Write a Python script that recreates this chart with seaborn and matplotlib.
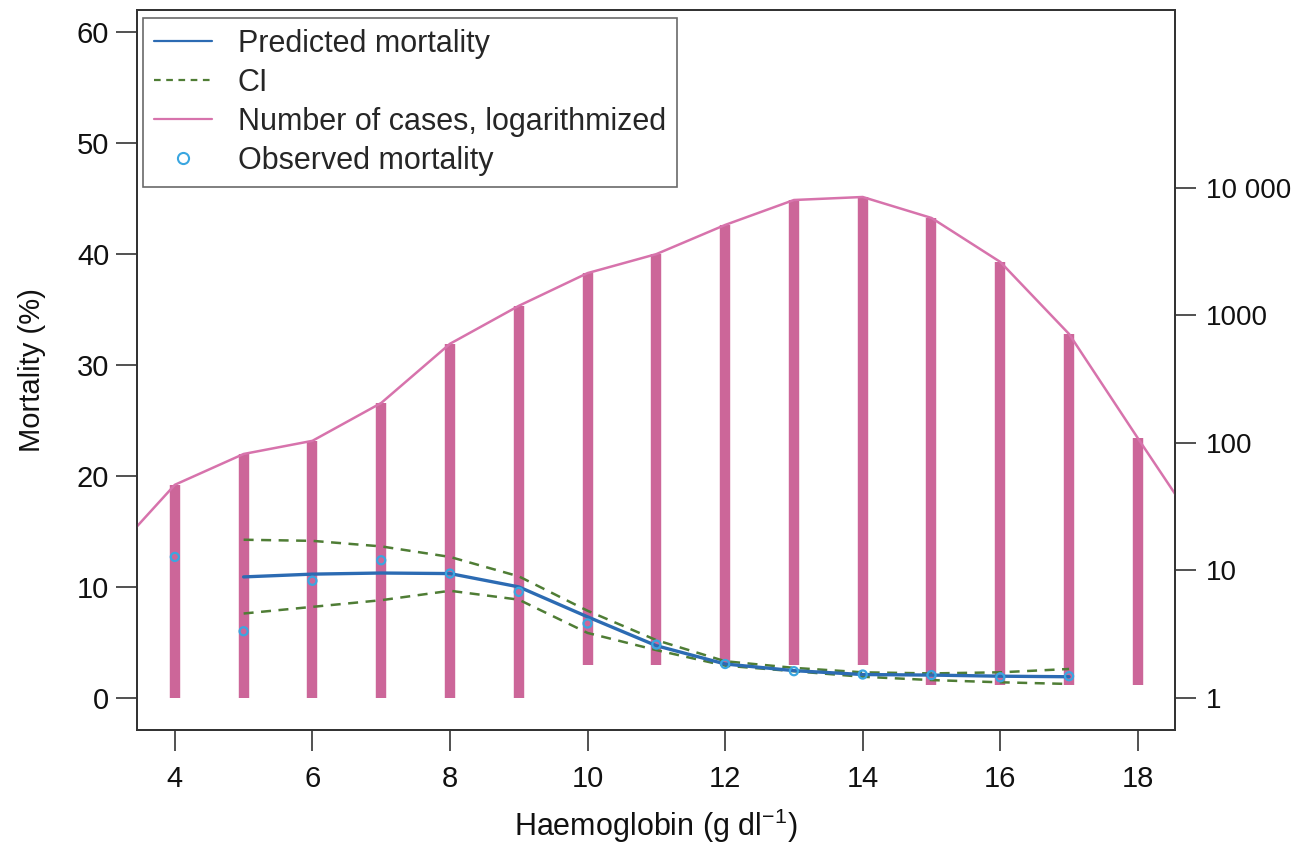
import numpy as np
import pandas as pd
import matplotlib
matplotlib.use("Agg")
import matplotlib.pyplot as plt
from matplotlib.lines import Line2D
import seaborn as sns

# ---- data ----
hb_pred = [5, 6, 7, 8, 9, 10, 11, 12, 13, 14, 15, 16, 17]
pred_mortality = [10.9, 11.15, 11.25, 11.2, 10.0, 7.3, 4.7, 3.05, 2.45, 2.1, 2.05, 1.95, 1.9]
ci_upper = [14.25, 14.15, 13.65, 12.7, 10.95, 7.85, 5.2, 3.3, 2.7, 2.3, 2.2, 2.3, 2.6]
ci_lower = [7.6, 8.2, 8.8, 9.65, 8.85, 5.85, 4.3, 2.9, 2.4, 1.9, 1.6, 1.4, 1.25]

hb_obs = [4, 5, 6, 7, 8, 9, 10, 11, 12, 13, 14, 15, 16, 17]
obs_mortality = [12.7, 6.0, 10.55, 12.4, 11.2, 9.55, 6.7, 4.8, 3.05, 2.4, 2.1, 2.05, 1.85, 1.95]

hb_cases = [3, 4, 5, 6, 7, 8, 9, 10, 11, 12, 13, 14, 15, 16, 17, 18, 19]
n_cases = [12, 47, 82, 104, 206, 600, 1190, 2150, 3030, 5130, 8050, 8500, 5820, 2630, 716, 109, 17]

hb_bars = [4, 5, 6, 7, 8, 9, 10, 11, 12, 13, 14, 15, 16, 17, 18]
bar_top = [47, 82, 104, 206, 600, 1190, 2150, 3030, 5130, 8050, 8500, 5820, 2630, 716, 109]
bar_bottom = [1, 1, 1, 1, 1, 1, 1.8, 1.8, 1.8, 1.8, 1.8, 1.26, 1.26, 1.26, 1.26]

left_ticks = [0, 10, 20, 30, 40, 50, 60]
right_ticks = [1, 10, 100, 1000, 10000]
right_labels = ["1", "10", "100", "1000", "10 000"]
x_ticks = [4, 6, 8, 10, 12, 14, 16, 18]

legend_labels = ["Predicted mortality", "CI", "Number of cases, logarithmized", "Observed mortality"]

# ---- style ----
sns.set_theme(style="white")
plt.rcParams["font.family"] = ["Liberation Sans", "DejaVu Sans"]
plt.rcParams["mathtext.fontset"] = "custom"
plt.rcParams["mathtext.rm"] = "Liberation Sans"
plt.rcParams["mathtext.it"] = "Liberation Sans:italic"

BLUE = "#2c6bb3"
GREEN = "#4f7d35"
PINK_BAR = "#cc6699"
PINK_LINE = "#d773ac"
CIRC = "#3aa6e0"
AXC = "#333333"

fig = plt.figure(figsize=(13.08, 8.43), dpi=100)
ax = fig.add_axes([137/1308, 1-730/843, (1175-137)/1308, (730-10)/843])
ax2 = ax.twinx()

# right (log) axis: bars and cases line
ax2.set_yscale("log")
ax2.vlines(hb_bars, bar_bottom, bar_top, color=PINK_BAR, linewidth=7.5, zorder=2)
cases_df = pd.DataFrame({"hb": hb_cases, "n": n_cases})
sns.lineplot(data=cases_df, x="hb", y="n", ax=ax2, color=PINK_LINE, linewidth=1.8, zorder=3)
ax2.set_ylim(10**-0.251, 10**5.396)
ax2.set_yticks(right_ticks)
ax2.set_yticklabels(right_labels)
ax2.yaxis.set_minor_locator(matplotlib.ticker.NullLocator())
ax2.set_ylabel("")
ax2.set_xlabel("")

# left axis: mortality
ci_df = pd.DataFrame({"hb": hb_pred, "up": ci_upper, "lo": ci_lower, "pred": pred_mortality})
sns.lineplot(data=ci_df, x="hb", y="up", ax=ax, color=GREEN, linewidth=1.8, linestyle=(0, (4, 3)))
sns.lineplot(data=ci_df, x="hb", y="lo", ax=ax, color=GREEN, linewidth=1.8, linestyle=(0, (4, 3)))
sns.lineplot(data=ci_df, x="hb", y="pred", ax=ax, color=BLUE, linewidth=2.4)
obs_df = pd.DataFrame({"hb": hb_obs, "obs": obs_mortality})
sns.scatterplot(data=obs_df, x="hb", y="obs", ax=ax, marker="o", s=34,
                facecolors="none", edgecolor=CIRC, linewidth=1.6, zorder=5)

ax.set_zorder(ax2.get_zorder() + 1)
ax.patch.set_visible(False)

ax.set_xlim(3.45, 18.54)
ax.set_ylim(-2.9, 62.0)
ax.set_xticks(x_ticks)
ax.set_yticks(left_ticks)

for a in (ax, ax2):
    for s in a.spines.values():
        s.set_color(AXC)
        s.set_linewidth(1.3)

ax.tick_params(axis="both", which="major", direction="out", length=15, width=1.2,
               color=AXC, labelsize=21, labelcolor="#111111")
ax.tick_params(axis="x", pad=10, left=True, bottom=True)
ax.tick_params(axis="y", pad=5, left=True)
ax2.tick_params(axis="y", which="major", direction="out", length=15, width=1.2,
                color=AXC, labelsize=20, labelcolor="#111111", pad=7, right=True)

ax.set_xlabel("Haemoglobin (g dl$^{-1}$)", fontsize=22, labelpad=10, color="#111111")
ax.set_ylabel("Mortality (%)", fontsize=21, labelpad=22, color="#111111")

handles = [
    Line2D([], [], color=BLUE, linewidth=1.6),
    Line2D([], [], color=GREEN, linewidth=1.6, linestyle=(0, (3, 2.5))),
    Line2D([], [], color=PINK_LINE, linewidth=1.6),
    Line2D([], [], color=CIRC, marker="o", linestyle="none", markersize=8,
           markerfacecolor="none", markeredgewidth=1.5),
]
leg = ax.legend(handles, legend_labels, loc="upper left", bbox_to_anchor=(0.006, 0.989),
                fontsize=22, frameon=True, fancybox=False, edgecolor="#444444",
                borderpad=0.35, labelspacing=0.3, handlelength=1.9, handletextpad=0.85,
                borderaxespad=0)
leg.get_frame().set_linewidth(1.2)

fig.savefig("out.png", dpi=100)
